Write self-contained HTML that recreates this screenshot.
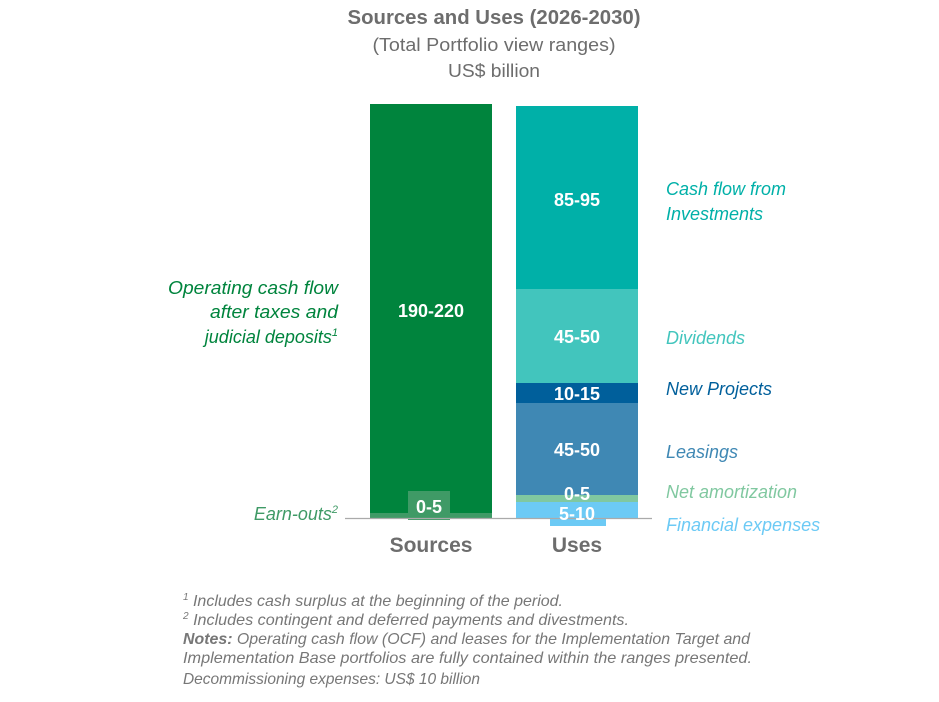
<!DOCTYPE html>
<html><head><meta charset="utf-8"><style>
body{margin:0;background:#fff;}
svg{display:block;font-family:"Liberation Sans",sans-serif;}
</style></head><body>
<svg width="939" height="702" viewBox="0 0 939 702">
<g fill="#6d6d6d" text-anchor="middle">
<text x="494" y="24" font-size="20" font-weight="bold" textLength="293" lengthAdjust="spacingAndGlyphs">Sources and Uses (2026-2030)</text>
<text x="494" y="51" font-size="18" textLength="243" lengthAdjust="spacingAndGlyphs">(Total Portfolio view ranges)</text>
<text x="494" y="77" font-size="18" textLength="92" lengthAdjust="spacingAndGlyphs">US$ billion</text>
</g>
<rect x="370" y="104" width="122" height="410" fill="#00843d"/>
<rect x="370" y="513" width="122" height="5" fill="#3f9a66"/>
<rect x="408" y="491" width="42" height="29" fill="#3f9a66"/>
<rect x="516" y="106" width="122" height="184" fill="#00b0a8"/>
<rect x="516" y="289" width="122" height="95" fill="#42c5bd"/>
<rect x="516" y="383" width="122" height="20" fill="#005f9b"/>
<rect x="516" y="403" width="122" height="93" fill="#3f88b4"/>
<rect x="516" y="495" width="122" height="7" fill="#80c8a0"/>
<rect x="516" y="502" width="122" height="16" fill="#6ccaf5"/>
<rect x="550" y="512" width="56" height="14" fill="#6ccaf5"/>
<line x1="345" y1="518.5" x2="652" y2="518.5" stroke="#aaa" stroke-width="1.2"/>
<g fill="#fff" font-weight="bold" font-size="18" text-anchor="middle">
<text x="431" y="317">190-220</text>
<text x="429" y="513">0-5</text>
<text x="577" y="206">85-95</text>
<text x="577" y="343">45-50</text>
<text x="577" y="400">10-15</text>
<text x="577" y="456">45-50</text>
<text x="577" y="500">0-5</text>
<text x="577" y="520">5-10</text>
</g>
<g fill="#6d6d6d" font-weight="bold" font-size="21" text-anchor="middle">
<text x="431" y="552">Sources</text>
<text x="577" y="552">Uses</text>
</g>
<g font-style="italic" font-size="18">
<text x="338" y="294" text-anchor="end" fill="#00843d" textLength="170" lengthAdjust="spacingAndGlyphs">Operating cash flow</text>
<text x="338" y="318" text-anchor="end" fill="#00843d" textLength="128" lengthAdjust="spacingAndGlyphs">after taxes and</text>
<text x="338" y="343" text-anchor="end" fill="#00843d">judicial deposits<tspan font-size="11" dy="-7">1</tspan></text>
<text x="338" y="520" text-anchor="end" fill="#3f9a66">Earn-outs<tspan font-size="11" dy="-7">2</tspan></text>
<text x="666" y="195" fill="#00b0a8">Cash flow from</text>
<text x="666" y="220" fill="#00b0a8">Investments</text>
<text x="666" y="344" fill="#42c5bd">Dividends</text>
<text x="666" y="395" fill="#005f9b">New Projects</text>
<text x="666" y="458" fill="#3f88b4">Leasings</text>
<text x="666" y="498" fill="#80c8a0">Net amortization</text>
<text x="666" y="531" fill="#6ccaf5">Financial expenses</text>
</g>
<g fill="#777" font-style="italic" font-size="16">
<text x="183" y="606" textLength="380" lengthAdjust="spacingAndGlyphs"><tspan font-size="10" dy="-6">1</tspan><tspan dy="6"> Includes cash surplus at the beginning of the period.</tspan></text>
<text x="183" y="625" textLength="446" lengthAdjust="spacingAndGlyphs"><tspan font-size="10" dy="-6">2</tspan><tspan dy="6"> Includes contingent and deferred payments and divestments.</tspan></text>
<text x="183" y="644" textLength="567" lengthAdjust="spacingAndGlyphs"><tspan font-weight="bold">Notes:</tspan> Operating cash flow (OCF) and leases for the Implementation Target and</text>
<text x="183" y="663" textLength="569" lengthAdjust="spacingAndGlyphs">Implementation Base portfolios are fully contained within the ranges presented.</text>
<text x="183" y="684" textLength="297" lengthAdjust="spacingAndGlyphs">Decommissioning expenses: US$ 10 billion</text>
</g>
</svg>
</body></html>
